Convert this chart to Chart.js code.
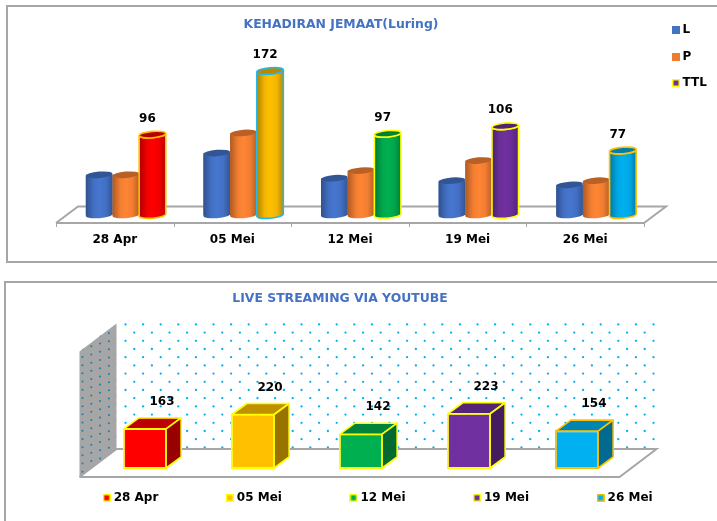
<!DOCTYPE html>
<html>
<head>
<meta charset="utf-8">
<title>Kehadiran Jemaat</title>
<script src="https://cdn.jsdelivr.net/npm/chart.js@4"></script>
<style>
  html, body { margin: 0; padding: 0; background: #fff; overflow: hidden; width: 717px; height: 521px; }
  .bingkai { position: absolute; width: 800px; border: 2px solid #a6a6a6; box-sizing: border-box; }
  canvas { position: absolute; left: 0; }
</style>
</head>
<body>
<div class="bingkai" style="left:6px;top:5px;height:258px"></div>
<div class="bingkai" style="left:4px;top:281px;height:400px"></div>
<canvas id="chartLuring" width="717" height="262" style="top:0"></canvas>
<canvas id="chartYoutube" width="717" height="240" style="top:281px"></canvas>
<script>
const tanggal = ["28 Apr", "05 Mei", "12 Mei", "19 Mei", "26 Mei"];
const laki = [48, 74, 44, 41, 36];
const perempuan = [48, 98, 53, 65, 41];
const total = [96, 172, 97, 106, 77];
const streaming = [163, 220, 142, 223, 154];

const warnaTanggal = ["#ff0000", "#ffc000", "#00b050", "#7030a0", "#00b0f0"];
const tepiTotal = ["#ffc000", "#29b6e8", "#ffff00", "#ffff00", "#ffc000"];
const tepiStreaming = ["#ffff00", "#ffff00", "#ffff00", "#ffff00", "#ffc000"];

const FONT = "'DejaVu Sans', sans-serif";
const BIRU = "#4472c4";
const ORANYE = "#ed7d31";
const ABU = "#a6a6a6";

function gelap(hex, f) {
  const n = parseInt(hex.slice(1), 16);
  const r = Math.round((n >> 16) * f), g = Math.round(((n >> 8) & 255) * f), b = Math.round((n & 255) * f);
  return `rgb(${r},${g},${b})`;
}

// kotak kecil untuk legenda
function kotak(warna, tepi) {
  const c = document.createElement("canvas");
  c.width = 8; c.height = 8;
  const x = c.getContext("2d");
  x.fillStyle = tepi || warna;
  x.fillRect(0, 0, 8, 8);
  x.fillStyle = warna;
  x.fillRect(1.5, 1.5, 5, 5);
  return c;
}

function silinder(ctx, bar, warna, tepi) {
  const rx = bar.width / 2, ry = 3.2, rot = -0.08;
  const kiri = bar.x - rx, kanan = bar.x + rx;
  const g = ctx.createLinearGradient(kiri, 0, kanan, 0);
  g.addColorStop(0, gelap(warna, 0.68));
  g.addColorStop(0.3, gelap(warna, 0.95));
  g.addColorStop(0.5, warna);
  g.addColorStop(0.75, gelap(warna, 0.95));
  g.addColorStop(1, gelap(warna, 0.72));
  ctx.save();
  ctx.beginPath();
  ctx.ellipse(bar.x, bar.base, rx, ry, rot, 0, Math.PI);
  ctx.ellipse(bar.x, bar.y, rx, ry, rot, Math.PI, 0, true);
  ctx.closePath();
  ctx.fillStyle = g;
  ctx.fill();
  if (tepi) {
    ctx.strokeStyle = tepi;
    ctx.lineWidth = 1.6;
    ctx.stroke();
  }
  ctx.beginPath();
  ctx.ellipse(bar.x, bar.y, rx, ry, rot, 0, Math.PI * 2);
  ctx.fillStyle = gelap(warna, 0.72);
  ctx.fill();
  if (tepi) ctx.stroke();
  ctx.restore();
}

function garis(ctx, titik) {
  ctx.beginPath();
  titik.forEach((p, i) => i ? ctx.lineTo(p[0], p[1]) : ctx.moveTo(p[0], p[1]));
}

function tulisNilai(ctx, teks, x, y) {
  ctx.save();
  ctx.font = "bold 12px " + FONT;
  ctx.fillStyle = "#000";
  ctx.textAlign = "center";
  ctx.textBaseline = "middle";
  ctx.fillText(teks, x, y);
  ctx.restore();
}

// Lantai dan silinder grafik pertama
const lantaiLuring = {
  id: "lantaiLuring",
  afterLayout(chart) {
    chart.titleBlock.left = 141;
    chart.titleBlock.right = 541;
    const l = chart.legend;
    l.left = 661; l.right = 717; l.top = 9.5; l.bottom = 262;
  },
  beforeDatasetsDraw(chart) {
    const { ctx, chartArea: a, scales } = chart;
    const dx = 11;
    const depan = a.bottom + 8, belakang = a.bottom - 8.5;
    ctx.save();
    ctx.strokeStyle = ABU;
    ctx.lineWidth = 2;
    garis(ctx, [[a.left - dx, depan], [a.left + dx, belakang], [a.right + dx, belakang], [a.right - dx, depan]]);
    ctx.stroke();
    garis(ctx, [[a.left - dx, depan], [a.right - dx, depan]]);
    ctx.stroke();
    ctx.lineWidth = 1;
    const lebar = (a.right - a.left) / tanggal.length;
    for (let i = 0; i <= tanggal.length; i++) {
      const x = Math.round(scales.x.left + lebar * i - dx) + 0.5;
      garis(ctx, [[x, depan], [x, depan + 4]]);
      ctx.stroke();
    }
    ctx.restore();
  },
  afterDatasetsDraw(chart) {
    const { ctx } = chart;
    const warnaSeri = ["#4676cf", "#ff8534"];
    chart.data.datasets.forEach((ds, d) => {
      chart.getDatasetMeta(d).data.forEach((bar, i) => {
        if (d < 2) silinder(ctx, bar, warnaSeri[d]);
        else {
          silinder(ctx, bar, warnaTanggal[i], tepiTotal[i]);
          tulisNilai(ctx, String(total[i]), bar.x - 5, bar.y - 16);
        }
      });
    });
  }
};

new Chart(document.getElementById("chartLuring"), {
  type: "bar",
  data: {
    labels: tanggal,
    datasets: [
      { label: "L", data: laki, backgroundColor: BIRU },
      { label: "P", data: perempuan, backgroundColor: ORANYE },
      { label: "TTL", data: total, backgroundColor: warnaTanggal, borderColor: tepiTotal }
    ]
  },
  options: {
    responsive: false,
    animation: false,
    categoryPercentage: 0.68,
    barPercentage: 1,
    layout: { padding: { left: 67, right: 62, top: 0, bottom: 0 } },
    scales: {
      x: {
        grid: { display: false, drawTicks: false },
        border: { display: false },
        afterFit(s) { s.height = 47; },
        ticks: {
          padding: 18,
          labelOffset: -11,
          maxRotation: 0,
          color: "#000",
          font: { family: FONT, size: 12, weight: "bold" }
        }
      },
      y: { display: false, min: 0, max: 200 }
    },
    plugins: {
      tooltip: { enabled: false },
      title: {
        display: true,
        text: "KEHADIRAN JEMAAT(Luring)",
        color: BIRU,
        font: { family: FONT, size: 12.4, weight: "bold" },
        padding: { top: 17, bottom: 15.6 }
      },
      legend: {
        position: "chartArea",
        align: "start",
        labels: {
          usePointStyle: true,
          pointStyleWidth: 1,
          padding: 14.5,
          color: "#000",
          font: { family: FONT, size: 12, weight: "bold" },
          generateLabels() {
            return [
              { text: "L", pointStyle: kotak(BIRU), datasetIndex: 0 },
              { text: "P", pointStyle: kotak(ORANYE), datasetIndex: 1 },
              { text: "TTL", pointStyle: kotak("#7030a0", "#ffff00"), datasetIndex: 2 }
            ];
          }
        }
      }
    }
  },
  plugins: [lantaiLuring]
});

// Dinding, lantai dan balok grafik kedua
const ruangYoutube = {
  id: "ruangYoutube",
  beforeInit(chart) {
    const fit = chart.legend.fit;
    chart.legend.fit = function () {
      this.maxWidth = 2000;
      fit.call(this);
      this.height = 52;
    };
  },
  afterLayout(chart) {
    chart.titleBlock.left = 140;
    chart.titleBlock.right = 540;
    const l = chart.legend;
    l.left = 105.7 - 70.5; l.right = 2000; l.top = 210.8 - 70.5; l.bottom = 240;
  },
  beforeDatasetsDraw(chart) {
    const { ctx, chartArea: a } = chart;
    const kiriD = a.left - 11.5, kananD = a.right - 11.5, yD = a.bottom + 8;
    const kiriB = a.left + 25.5, kananB = a.right + 25.5, yB = a.bottom - 20, atas = a.top - 19.5;

    ctx.save();
    // titik-titik dinding belakang
    ctx.fillStyle = "#00b0f0";
    for (let b = 0; atas + 1 + b * 8.2 < yB - 1; b++) {
      for (let k = 0; ; k++) {
        const x = kiriB + 9 + (b % 2 ? 8.8 : 0) + k * 17.6;
        if (x > kananB - 1) break;
        ctx.beginPath();
        ctx.arc(x, atas + 1 + b * 8.2, 1.15, 0, Math.PI * 2);
        ctx.fill();
      }
    }
    // dinding samping
    garis(ctx, [[kiriB, atas], [kiriB, yB], [kiriD, yD], [kiriD, yD - (yB - atas)]]);
    ctx.closePath();
    ctx.fillStyle = ABU;
    ctx.fill();
    ctx.clip();
    ctx.fillStyle = "#1c7ea8";
    const miring = (yD - yB) / (kiriB - kiriD);
    for (let k = 0; k < 5; k++) {
      const x = kiriD + 3 + k * 8.8;
      const naik = (x - kiriD) * miring;
      for (let b = 0; b < 18; b++) {
        ctx.beginPath();
        ctx.arc(x, yD - naik - 3 - (k % 2 ? 4 : 0) - b * 8.2, 1, 0, Math.PI * 2);
        ctx.fill();
      }
    }
    ctx.restore();

    ctx.save();
    ctx.strokeStyle = ABU;
    ctx.lineWidth = 2;
    garis(ctx, [[kiriD, yD], [kiriB, yB], [kananB, yB], [kananD, yD], [kiriD, yD]]);
    ctx.stroke();
    ctx.restore();
  },
  afterDatasetsDraw(chart) {
    const { ctx } = chart;
    const dx = 15, dy = 11;
    chart.getDatasetMeta(0).data.forEach((bar, i) => {
      const kiri = bar.x - bar.width / 2, kanan = bar.x + bar.width / 2;
      const warna = warnaTanggal[i];
      ctx.save();
      ctx.strokeStyle = tepiStreaming[i];
      ctx.lineWidth = 1.6;
      ctx.lineJoin = "round";
      garis(ctx, [[kiri + 1, bar.y + 1], [kiri + 1 + dx, bar.y + 1 - dy], [kanan - 1 + dx, bar.y + 1 - dy], [kanan - 1, bar.y + 1]]);
      ctx.closePath();
      ctx.fillStyle = gelap(warna, 0.75);
      ctx.fill();
      ctx.stroke();
      garis(ctx, [[kanan - 1, bar.y + 1], [kanan - 1 + dx, bar.y + 1 - dy], [kanan - 1 + dx, bar.base - 1 - dy], [kanan - 1, bar.base - 1]]);
      ctx.closePath();
      ctx.fillStyle = gelap(warna, 0.6);
      ctx.fill();
      ctx.stroke();
      ctx.restore();
      tulisNilai(ctx, String(streaming[i]), bar.x + 17, bar.y - 26);
    });
  }
};

new Chart(document.getElementById("chartYoutube"), {
  type: "bar",
  data: {
    labels: tanggal,
    datasets: [{
      label: "Live streaming",
      data: streaming,
      backgroundColor: warnaTanggal,
      borderColor: tepiStreaming,
      borderWidth: 2,
      borderSkipped: false
    }]
  },
  options: {
    responsive: false,
    animation: false,
    categoryPercentage: 1,
    barPercentage: 0.41,
    layout: { padding: { left: 91, right: 86, top: 0, bottom: 0 } },
    scales: {
      x: { display: false },
      y: { display: false, min: 0, max: 500 }
    },
    plugins: {
      tooltip: { enabled: false },
      title: {
        display: true,
        text: "LIVE STREAMING VIA YOUTUBE",
        color: BIRU,
        font: { family: FONT, size: 12.4, weight: "bold" },
        padding: { top: 10.5, bottom: 36.5 }
      },
      legend: {
        position: "bottom",
        align: "start",
        labels: {
          usePointStyle: true,
          pointStyleWidth: 2,
          padding: 70.5,
          color: "#000",
          font: { family: FONT, size: 12, weight: "bold" },
          generateLabels() {
            return tanggal.map((t, i) => ({ text: t, pointStyle: kotak(warnaTanggal[i], tepiStreaming[i]), index: i }));
          }
        }
      }
    }
  },
  plugins: [ruangYoutube]
});
</script>
</body>
</html>
